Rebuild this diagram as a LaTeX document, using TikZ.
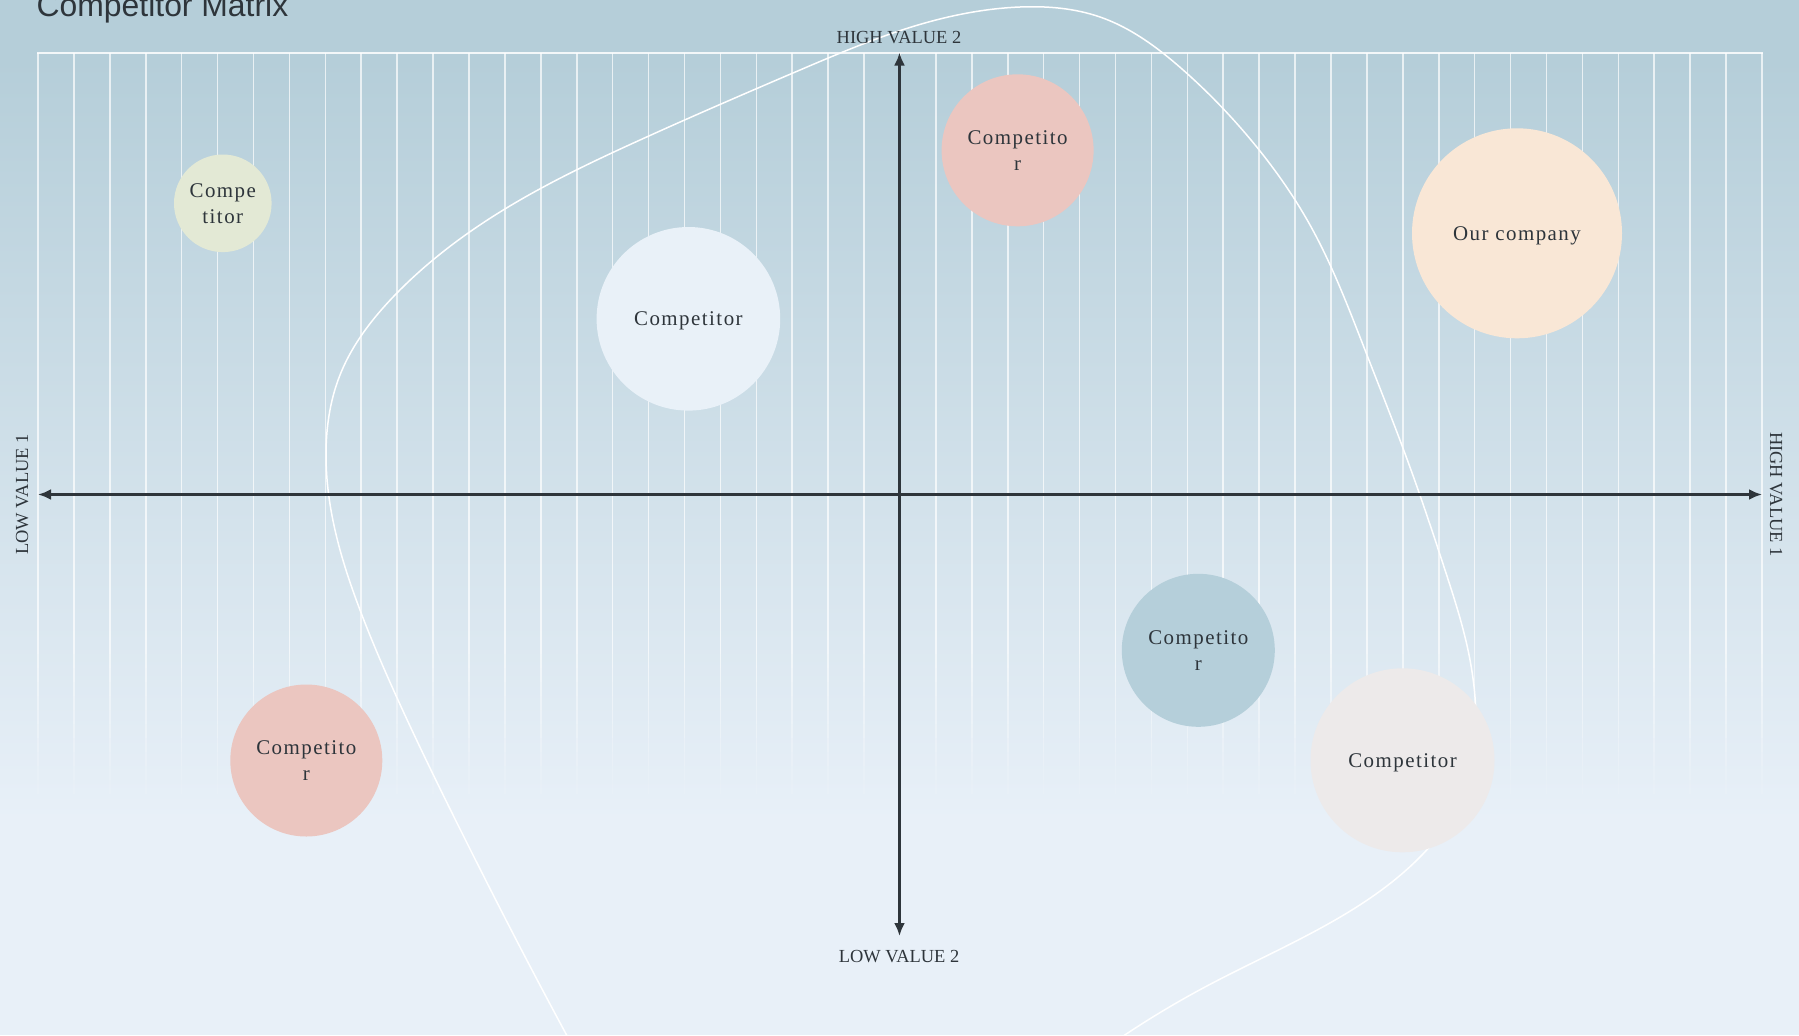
\documentclass[tikz,border=0pt]{standalone}
\usepackage{fontspec}
\setmainfont{Liberation Serif}
\newfontfamily\titlefont{Liberation Sans}
\newfontfamily\circfont[LetterSpace=7]{Liberation Serif}
\usetikzlibrary{arrows.meta,hobby}
\definecolor{bgtop}{HTML}{B5CED9}
\definecolor{bgbot}{HTML}{E8F0F8}
\definecolor{ink}{HTML}{2E353B}
\definecolor{cgreen}{HTML}{E3E9D5}
\definecolor{cpink}{HTML}{EBC6C0}
\definecolor{clight}{HTML}{E9F1F8}
\definecolor{cpeach}{HTML}{F9E7D6}
\definecolor{cblue}{HTML}{B5CFDA}
\definecolor{cgray}{HTML}{EDEAEA}
\tikzset{
  gridline/.style={draw=white, line width=1.6bp},
  axisline/.style={draw=ink, line width=3.5bp, {Latex[length=13bp,width=11bp]}-{Latex[length=13bp,width=11bp]}},
  axislabel/.style={font=\fontsize{18.5}{21}\selectfont, text=ink, inner sep=0pt, anchor=base},
  bubble/.style={circle, inner sep=0pt, draw=none, text=ink, align=center, text depth=0pt, font=\circfont\fontsize{21}{26}\selectfont},
  blob/.style={draw=white, line width=1.5bp}
}
\begin{document}
\begin{tikzpicture}[x=1bp,y=-1bp]
\useasboundingbox (0,0) rectangle (1799,1035);
% background
\fill[bgtop] (0,0) rectangle (1799,61);
\shade[top color=bgtop, bottom color=bgbot] (0,60) rectangle (1799,821);
\fill[bgbot] (0,820) rectangle (1799,1035);
% grid
\foreach \i in {0,...,48}{
  \pgfmathsetmacro{\gx}{38+\i*35.917}
  \draw[gridline, opacity=0.7] (\gx,53) -- (\gx,640);
  \foreach \j in {0,...,11}{
    \pgfmathsetmacro{\ya}{640+\j*14}
    \pgfmathsetmacro{\yb}{640+(\j+1)*14}
    \pgfmathsetmacro{\op}{0.7*(1-(\j+0.5)/12)}
    \draw[gridline, opacity=\op] (\gx,\ya) -- (\gx,\yb);
  }
}
\draw[gridline, opacity=0.85] (37.2,53) -- (1762.8,53);
% blob curve
\draw[blob, use Hobby shortcut] (572,1045) .. (505,918) .. (467,843) .. (398,700)
 .. (360,610) .. (335,530) .. (326,455) .. (340,375) .. (395,295) .. (500,212)
 .. (640,140) .. (800,70) .. (918,25) .. (1020,7) .. (1100,17) .. (1182,69)
 .. (1251,140) .. (1310,225) .. (1365,350) .. (1411,470) .. (1445,570)
 .. (1468,650) .. (1476,720) .. (1465,790) .. (1420,857) .. (1319,929)
 .. (1205,987) .. (1110,1045);
% axes
\coordinate (xl) at (38,494.5);
\coordinate (xr) at (1762,494.5);
\coordinate (yt) at (899.5,52.5);
\coordinate (yb) at (899.5,936);
\draw[axisline] (xl) -- (xr);
\draw[axisline] (yt) -- (yb);
% bubbles
\node[bubble, fill=cgreen, minimum size=97.6bp] (c1) at (222.8,203.3) {Compe\\titor};
\node[bubble, fill=cpink, minimum size=152bp] (c2) at (1017.6,150.3) {Competito\\r};
\node[bubble, fill=clight, minimum size=183.6bp] (c3) at (688.4,318.8) {Competitor};
\node[bubble, fill=cpeach, minimum size=210bp] (c4) at (1517,233.3) {Our company};
\node[bubble, fill=cpink, minimum size=152bp] (c5) at (306.3,760.5) {Competito\\r};
\node[bubble, fill=cblue, minimum size=153bp] (c6) at (1198.3,650.3) {Competito\\r};
\node[bubble, fill=cgray, minimum size=184bp] (c7) at (1402.5,760.3) {Competitor};
% axis labels
\node[axislabel] (lh2) at (899,43) {HIGH VALUE 2};
\node[axislabel] (ll2) at (899,962) {LOW VALUE 2};
\node[axislabel, rotate=90] (ll1) at (28,494.5) {LOW VALUE 1};
\node[axislabel, rotate=-90] (lh1) at (1770,494.5) {HIGH VALUE 1};
% title
\node[anchor=base west, inner sep=0pt, text=ink, font=\titlefont\fontsize{32}{38}\selectfont] (title) at (36.5,16.5) {Competitor Matrix};
\end{tikzpicture}
\end{document}
